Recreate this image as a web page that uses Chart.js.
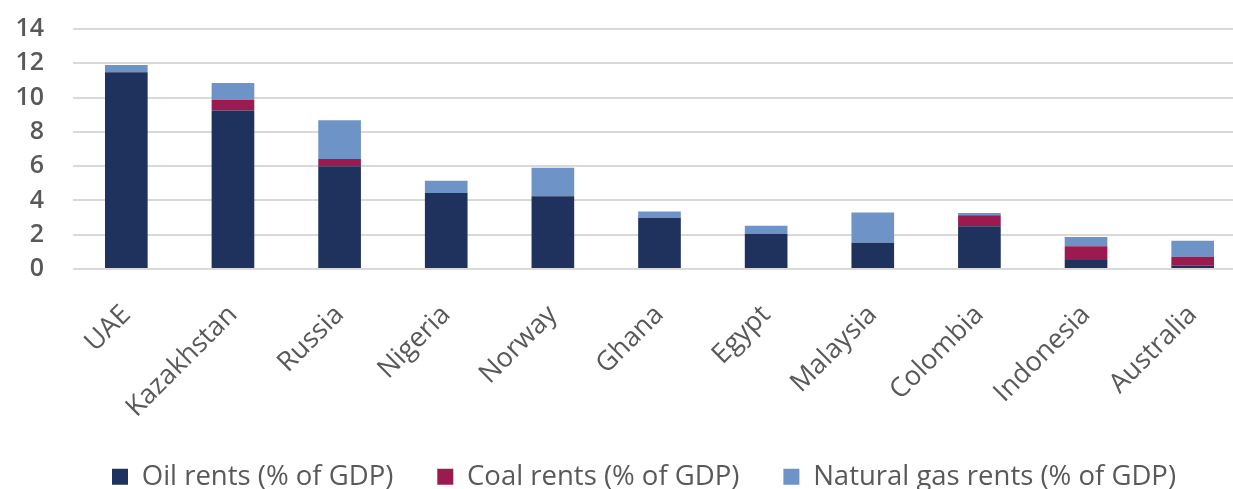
<!DOCTYPE html>
<html>
<head>
<meta charset="utf-8">
<title>Resource rents</title>
<script src="https://cdn.jsdelivr.net/npm/chart.js@4"></script>
<style>
    html, body { margin: 0; padding: 0; background: #fff; overflow: hidden; }
    .chart-wrap { position: relative; width: 1233px; height: 489px; overflow: hidden; }
    .chart-box { position: absolute; left: 0; top: 0; width: 1288px; height: 489px; }
</style>
</head>
<body>
<div class="chart-wrap">
    <div class="chart-box"><canvas id="rents-chart"></canvas></div>
</div>
<script>
// 국가 목록
var countries = ['UAE', 'Kazakhstan', 'Russia', 'Nigeria', 'Norway', 'Ghana',
    'Egypt', 'Malaysia', 'Colombia', 'Indonesia', 'Australia'];

// % of GDP
var oilRents = [11.47, 9.25, 5.99, 4.43, 4.24, 2.98, 2.06, 1.53, 2.49, 0.52, 0.19];
var coalRents = [0, 0.63, 0.43, 0, 0, 0, 0, 0, 0.64, 0.80, 0.53];
var gasRents = [0.43, 0.97, 2.25, 0.72, 1.67, 0.38, 0.47, 1.77, 0.14, 0.55, 0.93];

var yTicks = [0, 2, 4, 6, 8, 10, 12, 14];

var seriesNames = ['Oil rents (% of GDP)', 'Coal rents (% of GDP)', 'Natural gas rents (% of GDP)'];

(function() {
    'use strict';

    var TEXT = '#595959';
    var GRID = '#d9d9d9';
    var FONT = "'Open Sans', sans-serif";

    // 범례 높이 고정 (padding 은 항목 간격용)
    var legendHeight = {
        id: 'legendHeight',
        beforeInit: function(chart) {
            var fit = chart.legend.fit;
            chart.legend.fit = function() {
                fit.call(this);
                this.height = 70;
            };
        }
    };

    function initRentsChart() {
        var ctx = document.getElementById('rents-chart');
        if (!ctx) return;

        new Chart(ctx, {
            type: 'bar',
            data: {
                labels: countries,
                datasets: [{
                    label: seriesNames[0],
                    data: oilRents,
                    backgroundColor: '#1f325d'
                }, {
                    label: seriesNames[1],
                    data: coalRents,
                    backgroundColor: '#9b1a4f'
                }, {
                    label: seriesNames[2],
                    data: gasRents,
                    backgroundColor: '#6e93c6'
                }]
            },
            plugins: [legendHeight],
            options: {
                responsive: true,
                maintainAspectRatio: false,
                animation: false,
                categoryPercentage: 1,
                barPercentage: 0.4,
                layout: {
                    padding: { top: 29, right: 0, bottom: 0, left: 0 }
                },
                plugins: {
                    legend: {
                        position: 'bottom',
                        labels: {
                            color: TEXT,
                            boxWidth: 16,
                            boxHeight: 16,
                            padding: 44,
                            font: { family: FONT, size: 27.5 }
                        }
                    },
                    tooltip: { enabled: false }
                },
                scales: {
                    x: {
                        stacked: true,
                        grid: { display: false, drawTicks: false },
                        border: { display: false },
                        ticks: {
                            color: TEXT,
                            minRotation: 45,
                            maxRotation: 45,
                            padding: 30,
                            font: { family: FONT, size: 27, weight: '500' }
                        },
                        afterFit: function(scale) {
                            scale.height = 150;
                        }
                    },
                    y: {
                        stacked: true,
                        min: yTicks[0],
                        max: yTicks[yTicks.length - 1],
                        grid: { color: GRID, lineWidth: 2, drawTicks: false },
                        border: { display: false },
                        ticks: {
                            stepSize: yTicks[1] - yTicks[0],
                            autoSkip: false,
                            color: TEXT,
                            padding: 29,
                            font: { family: FONT, size: 25, weight: '600' }
                        },
                        afterFit: function(scale) {
                            scale.width = 73;
                            // tick padding 이 위/아래 여백으로 잡히지 않게
                            scale.paddingTop = 0;
                            scale.paddingBottom = 0;
                        }
                    },
                    // 오른쪽 여백용 빈 축 (그림 밖으로 잘리는 부분)
                    yRight: {
                        position: 'right',
                        display: true,
                        grid: { display: false, drawTicks: false },
                        border: { display: false },
                        ticks: { display: false },
                        afterFit: function(scale) {
                            scale.width = 42;
                        }
                    }
                }
            }
        });
    }

    initRentsChart();
})();
</script>
</body>
</html>
